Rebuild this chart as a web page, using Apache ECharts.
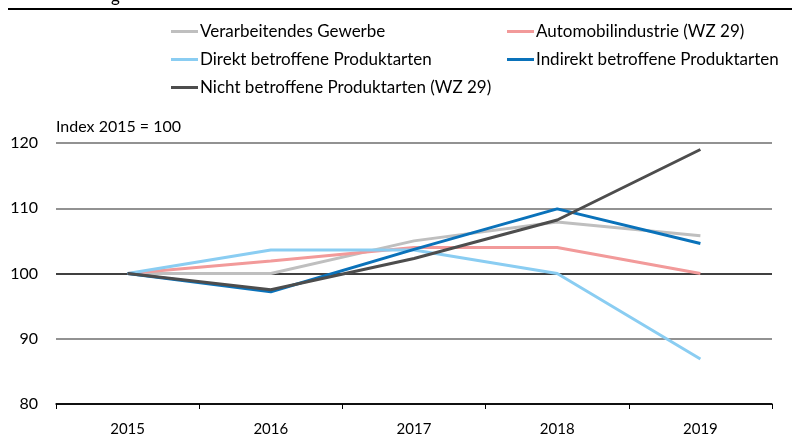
<!DOCTYPE html>
<html>
<head>
<meta charset="utf-8">
<script src="https://cdn.jsdelivr.net/npm/echarts@6/dist/echarts.min.js"></script>
<style>
  html, body { margin: 0; padding: 0; background: #fff; }
  #main { width: 792px; height: 437px; }
</style>
</head>
<body>
<div id="main"></div>
<script>
  var years = ['2015', '2016', '2017', '2018', '2019'];
  var verarbeitendes = [100, 100, 105, 107.9, 105.8];
  var automobil = [100, 101.9, 104, 104, 100];
  var direkt = [100, 103.6, 103.6, 100, 86.9];
  var indirekt = [100, 97.2, 103.7, 109.9, 104.6];
  var nicht = [100, 97.5, 102.3, 108.2, 119];

  var font = 'Lato';
  var myChart = echarts.init(document.getElementById('main'));

  function line(name, data, color) {
    return {
      name: name,
      type: 'line',
      data: data,
      symbol: 'none',
      lineStyle: { color: color, width: 3 },
      itemStyle: { color: color }
    };
  }

  var legendText = { fontSize: 17, color: '#000', fontFamily: font, padding: [0, 0, 0, -3] };

  var option = {
    animation: false,
    textStyle: { fontFamily: font },
    grid: { left: 56, right: 20, top: 143, bottom: 33 },
    legend: [
      {
        left: 166, top: 18, orient: 'vertical', itemGap: 11,
        icon: 'rect', itemWidth: 27, itemHeight: 3,
        textStyle: legendText,
        data: ['Verarbeitendes Gewerbe', 'Direkt betroffene Produktarten', 'Nicht betroffene Produktarten (WZ 29)']
      },
      {
        left: 502, top: 18, orient: 'vertical', itemGap: 11,
        icon: 'rect', itemWidth: 27, itemHeight: 3,
        textStyle: legendText,
        data: ['Automobilindustrie (WZ 29)', 'Indirekt betroffene Produktarten']
      }
    ],
    xAxis: {
      type: 'category',
      data: years,
      axisLine: { lineStyle: { color: '#000', width: 1.5 } },
      axisTick: { show: true, length: 5, lineStyle: { color: '#000' } },
      axisLabel: { fontSize: 15, color: '#000', margin: 18, fontFamily: font }
    },
    yAxis: {
      type: 'value',
      min: 80, max: 120, interval: 10,
      axisLine: { show: false },
      axisTick: { show: false },
      axisLabel: { fontSize: 16, color: '#000', margin: 18, fontFamily: font },
      splitLine: { lineStyle: { color: ['#000', '#6e6e6e', '#000', '#6e6e6e', '#6e6e6e'], width: 1.5 } }
    },
    graphic: [
      { type: 'line', shape: { x1: 8, y1: 9, x2: 792, y2: 9 }, style: { stroke: '#000', lineWidth: 2 } },
      { type: 'text', left: 111, top: -12, style: { text: 'g', fontSize: 17, fill: '#000', fontFamily: font } },
      { type: 'text', left: 56, top: 119, style: { text: 'Index 2015 = 100', fontSize: 16, fill: '#000', fontFamily: font } }
    ],
    series: [
      line('Verarbeitendes Gewerbe', verarbeitendes, '#BFBFBF'),
      line('Automobilindustrie (WZ 29)', automobil, '#F29A9A'),
      line('Direkt betroffene Produktarten', direkt, '#8ACDF2'),
      line('Indirekt betroffene Produktarten', indirekt, '#0A72BA'),
      line('Nicht betroffene Produktarten (WZ 29)', nicht, '#4D4D4D')
    ]
  };

  myChart.setOption(option);
</script>
</body>
</html>
